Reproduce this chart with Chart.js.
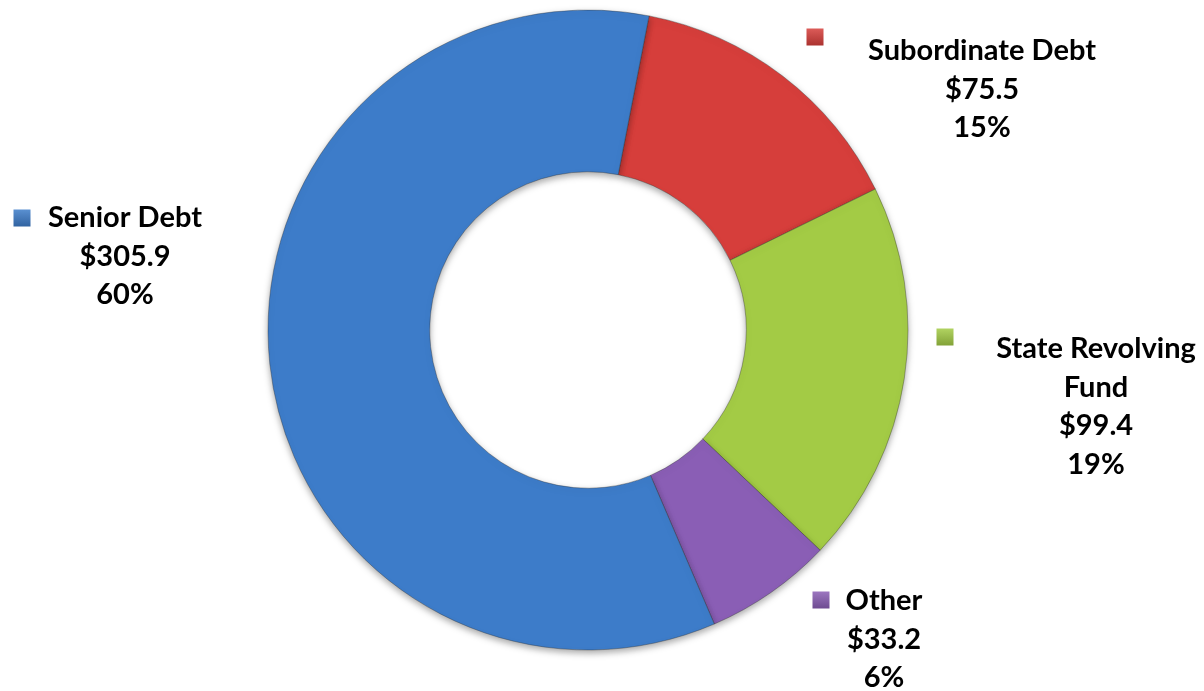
<!DOCTYPE html>
<html>
<head>
<meta charset="utf-8">
<script src="https://cdn.jsdelivr.net/npm/chart.js@4/dist/chart.umd.min.js"></script>
<style>
  html, body { margin: 0; padding: 0; background: #fff; }
  #wrap { position: relative; width: 1204px; height: 691px; }
</style>
</head>
<body>
<div id="wrap"><canvas id="myChart"></canvas></div>
<script>
'use strict'
// data (order = clockwise from the top)
var categories = ['Subordinate Debt', 'State Revolving Fund', 'Other', 'Senior Debt'];
var amounts = [75.5, 99.4, 33.2, 305.9];
var sliceColors = ['#D63E3B', '#A3CB45', '#8A5EB5', '#3D7CC9'];

// label text lines (name may wrap) and where each label block sits
var labelNames = [['Subordinate Debt'], ['State Revolving', 'Fund'], ['Other'], ['Senior Debt']];
var labelCenters = [[982, 51], [1096, 349], [884, 601], [125, 218]];
var keyCenters = [[815, 37], [945, 337], [821, 600], [22, 218]];

var total = 0;
for (var i = 0; i < amounts.length; i++) {
    total += amounts[i];
}

// shade colour helper for the bevel look
function shade(hex, amt) {
    var n = parseInt(hex.slice(1), 16);
    var r = (n >> 16) & 255, g = (n >> 8) & 255, b = n & 255;
    function f(c) {
        var v = amt < 0 ? c * (1 + amt) : c + (255 - c) * amt;
        return Math.round(Math.max(0, Math.min(255, v)));
    }
    return 'rgb(' + f(r) + ',' + f(g) + ',' + f(b) + ')';
}

function ringFill(context) {
    var chart = context.chart;
    var arc = context.element;
    var base = sliceColors[context.dataIndex];
    if (!arc || !arc.outerRadius) {
        return base;
    }
    var ctx = chart.ctx;
    var inner = arc.innerRadius, outer = arc.outerRadius;
    var g = ctx.createRadialGradient(arc.x, arc.y, inner, arc.x, arc.y, outer);
    g.addColorStop(0, shade(base, -0.35));
    g.addColorStop(0.06, shade(base, -0.05));
    g.addColorStop(0.5, base);
    g.addColorStop(0.9, shade(base, 0.08));
    g.addColorStop(0.97, shade(base, -0.1));
    g.addColorStop(1, shade(base, -0.35));
    return g;
}

// soft drop shadow under the ring
var shadowPlugin = {
    id: 'ringShadow',
    beforeDatasetsDraw: function (chart) {
        var ctx = chart.ctx;
        ctx.save();
        ctx.shadowColor = 'rgba(0,0,0,0.35)';
        ctx.shadowBlur = 7;
        ctx.shadowOffsetY = 3;
    },
    afterDatasetsDraw: function (chart) {
        chart.ctx.restore();
    }
};

// Excel style data labels with a little legend key
var labelPlugin = {
    id: 'sliceLabels',
    afterDraw: function (chart) {
        var ctx = chart.ctx;
        ctx.save();
        ctx.font = 'bold 29px Lato, "DejaVu Sans", sans-serif';
        ctx.fillStyle = '#000';
        ctx.textAlign = 'center';
        ctx.textBaseline = 'middle';
        var lineGap = 38.5;
        for (var i = 0; i < amounts.length; i++) {
            var lines = labelNames[i].slice();
            lines.push('$' + amounts[i].toFixed(1));
            lines.push(Math.round(amounts[i] / total * 100) + '%');
            for (var j = 0; j < lines.length; j++) {
                ctx.fillText(lines[j], labelCenters[i][0], labelCenters[i][1] + j * lineGap);
            }
            // key square
            var kx = keyCenters[i][0], ky = keyCenters[i][1], s = 17;
            var kg = ctx.createLinearGradient(0, ky - s / 2, 0, ky + s / 2);
            kg.addColorStop(0, shade(sliceColors[i], 0.15));
            kg.addColorStop(1, shade(sliceColors[i], -0.2));
            ctx.fillStyle = kg;
            ctx.fillRect(kx - s / 2, ky - s / 2, s, s);
            ctx.fillStyle = '#000';
        }
        ctx.restore();
    }
};

var ctx = document.getElementById('myChart').getContext('2d');
var chart = new Chart(ctx, {
    type: 'doughnut',
    data: {
        labels: categories,
        datasets: [{
            data: amounts,
            backgroundColor: ringFill,
            borderColor: 'rgba(40,40,40,0.35)',
            borderWidth: 1
        }]
    },
    options: {
        responsive: true,
        maintainAspectRatio: false,
        animation: false,
        rotation: 11,
        radius: 320,
        cutout: 158,
        layout: { padding: { top: 10, bottom: 41, left: 0, right: 28 } },
        plugins: {
            legend: { display: false },
            tooltip: { enabled: false }
        }
    },
    plugins: [shadowPlugin, labelPlugin]
});
</script>
</body>
</html>
